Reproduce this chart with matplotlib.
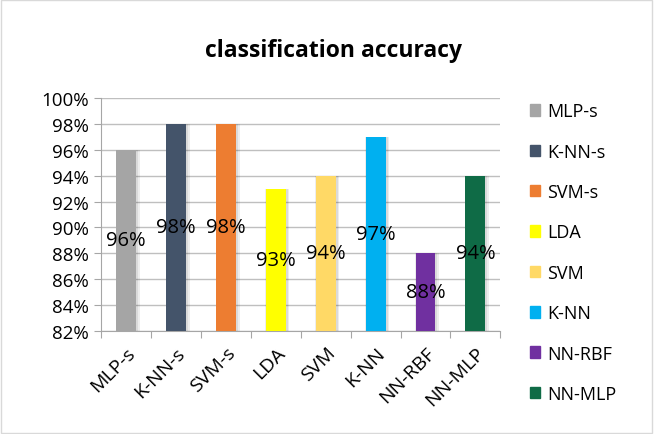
import matplotlib
matplotlib.use("Agg")
from matplotlib import pyplot as plt
from matplotlib.ticker import FuncFormatter, MultipleLocator

methods = ["MLP-s", "K-NN-s", "SVM-s", "LDA", "SVM", "K-NN", "NN-RBF", "NN-MLP"]
accuracy = [96, 98, 98, 93, 94, 97, 88, 94]
colors = ["#A5A5A5", "#44546A", "#ED7D31", "#FFFF00",
          "#FFD966", "#00B0F0", "#7030A0", "#0F6B46"]

plt.rcParams['font.family'] = ['Open Sans', 'DejaVu Sans']

fig = plt.figure(figsize=(6.54, 4.35), dpi=100)
ax = fig.add_axes([0.155, 0.237, 0.610, 0.535])

base = 82
x = list(range(len(methods)))
heights = [a - base for a in accuracy]

# soft shadow around the bars
for i, h in zip(x, heights):
    ax.bar(i + 0.03, h, width=0.48, bottom=base, color="#000000",
           alpha=0.07, zorder=2, linewidth=0)
    ax.bar(i + 0.02, h, width=0.44, bottom=base, color="#000000",
           alpha=0.08, zorder=2, linewidth=0)
ax.bar(x, heights, width=0.4, bottom=base, color=colors, zorder=3)

for i, a in zip(x, accuracy):
    ax.text(i, base + (a - base) / 2, f"{a}%", ha="center", va="center",
            fontsize=14.5, zorder=4)

ax.set_ylim(82, 100)
ax.set_xlim(-0.5, len(methods) - 0.5)
ax.yaxis.set_major_locator(MultipleLocator(2))
ax.yaxis.set_major_formatter(FuncFormatter(lambda v, p: f"{v:.0f}%"))
ax.grid(axis="y", color="#BFBFBF", linewidth=1, zorder=0)
ax.set_axisbelow(True)

for s in ["top", "right"]:
    ax.spines[s].set_visible(False)
ax.spines["left"].set_color("#A6A6A6")
ax.spines["bottom"].set_color("#A6A6A6")

ax.set_xticks([i - 0.5 for i in range(len(methods) + 1)], minor=False)
ax.set_xticklabels([])
ax.tick_params(axis="x", which="major", length=5, color="#A6A6A6")
ax.set_xticks(x, minor=True)
ax.set_xticklabels(methods, minor=True, rotation=45, ha="right",
                   rotation_mode="anchor", fontsize=14)
ax.tick_params(axis="x", which="minor", length=0, pad=9)
ax.tick_params(axis="y", length=5, color="#A6A6A6", labelsize=13.5, pad=4)

handles = [plt.Rectangle((0, 0), 1, 1, color=c) for c in colors]
fig.legend(handles, methods, loc="upper left", bbox_to_anchor=(0.785, 0.80),
           frameon=False, fontsize=13, handlelength=0.6, handleheight=0.6,
           labelspacing=1.24, handletextpad=0.35)

fig.text(0.51, 0.882, "classification accuracy", ha="center", va="center",
         fontsize=16.5, fontweight="bold")

fig.patches.append(plt.Rectangle((0.002, 0.003), 0.995, 0.994,
                                 transform=fig.transFigure, fill=False,
                                 edgecolor="#D9D9D9", linewidth=1))

fig.savefig("out.png", dpi=100)
